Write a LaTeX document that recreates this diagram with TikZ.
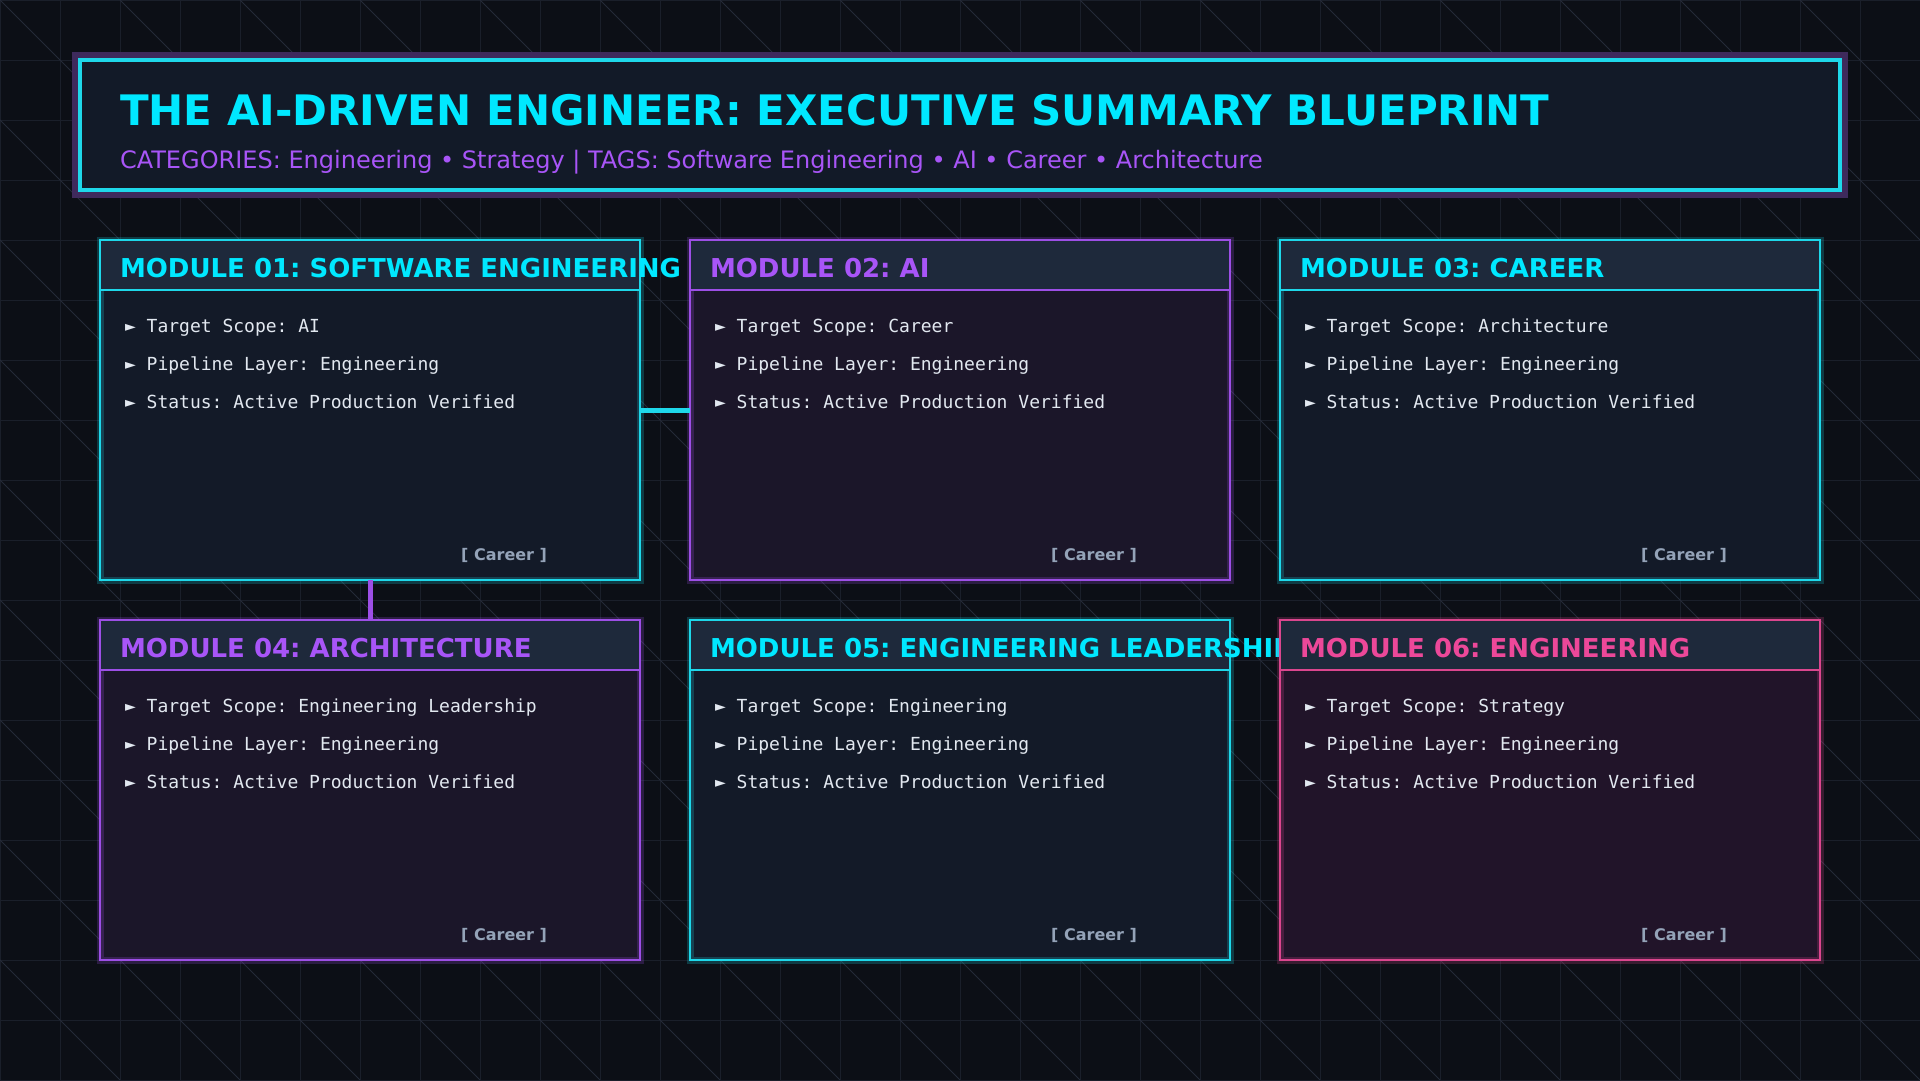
\documentclass[tikz,border=0pt]{standalone}
\usepackage{fontspec}
\setmainfont{DejaVu Sans}
\newfontfamily\monof{DejaVu Sans Mono}
\frenchspacing
\definecolor{bgc}{HTML}{0C0F16}
\definecolor{gridc}{HTML}{1A1F2A}
\definecolor{diagc}{HTML}{242A38}
\definecolor{cyanT}{HTML}{00E8FF}
\definecolor{cyanB}{HTML}{1ED8EA}
\definecolor{purpT}{HTML}{A855F7}
\definecolor{purpB}{HTML}{9D4FE6}
\definecolor{pinkT}{HTML}{EC4899}
\definecolor{pinkB}{HTML}{DB468E}
\definecolor{hdrc}{HTML}{1E293B}
\definecolor{bodyC}{HTML}{131A28}
\definecolor{bodyP}{HTML}{1B1629}
\definecolor{bodyK}{HTML}{211429}
\definecolor{titlebg}{HTML}{121A28}
\definecolor{glowP}{HTML}{3E2A5C}
\definecolor{bulletc}{HTML}{E2E8F0}
\definecolor{tagc}{HTML}{94A3B8}
\tikzset{
  txt/.style={inner sep=0pt, outer sep=0pt},
  headtxt/.style={txt, anchor=base west, font=\fontsize{26}{30}\selectfont\bfseries},
  bullettxt/.style={txt, anchor=base west, text=bulletc, font=\monof\fontsize{18}{22}\selectfont},
  tagtxt/.style={txt, anchor=base east, text=tagc, font=\fontsize{16}{20}\selectfont\bfseries},
  modframe/.style={rectangle, minimum width=540pt, minimum height=340pt, anchor=north west, inner sep=0pt, outer sep=0pt},
  link/.style={line width=5pt},
}
\newcommand\modulebox[8]{%
  % #1 name, #2 x, #3 y, #4 border colour, #5 text colour, #6 body fill, #7 title, #8 scope
  \node[modframe, fill=#6] (#1) at (#2,#3) {};
  \draw[#4, line width=7pt, opacity=0.22] (#1.north west) rectangle (#1.south east);
  \fill[hdrc] (#1.north west) rectangle ([yshift=-50pt]#1.north east);
  \draw[#4, line width=1.2pt] ([yshift=-50pt]#1.north west) -- ([yshift=-50pt]#1.north east);
  \draw[#4, line width=2.4pt] (#1.north west) rectangle (#1.south east);
  \node[headtxt, text=#5] (#1h) at ([shift={(20pt,-37pt)}]#1.north west) {#7};
  \node[bullettxt] (#1a) at ([shift={(25pt,-92pt)}]#1.north west) {► Target Scope: #8};
  \node[bullettxt] (#1b) at ([shift={(25pt,-130pt)}]#1.north west) {► Pipeline Layer: Engineering};
  \node[bullettxt] (#1c) at ([shift={(25pt,-168pt)}]#1.north west) {► Status: Active Production Verified};
  \node[tagtxt] (#1t) at ([shift={(447pt,-320pt)}]#1.north west) {[ Career ]};
}
\begin{document}
\begin{tikzpicture}[x=1pt,y=-1pt]
\fill[bgc] (0,0) rectangle (1920,1080);
\useasboundingbox (0,0) rectangle (1920,1080);
\begin{scope}
  \clip (0,0) rectangle (1920,1080);
  \foreach \x in {0,60,...,1920} \draw[gridc, line width=1pt] (\x,0) -- (\x,1080);
  \foreach \y in {0,60,...,1080} \draw[gridc, line width=1pt] (0,\y) -- (1920,\y);
  \foreach \k in {-1080,-960,...,1920} \draw[diagc, line width=0.8pt] (\k,0) -- (\k+1080,1080);
\end{scope}
% title panel
\fill[glowP] (72,52) rectangle (1848,198);
\draw[cyanB, line width=3.4pt, fill=titlebg] (80,60) rectangle (1840,190);
\node[txt, anchor=base west, text=cyanT, font=\fontsize{42}{50}\selectfont\bfseries] (title) at (120,125) {THE AI-DRIVEN ENGINEER: EXECUTIVE SUMMARY BLUEPRINT};
\node[txt, anchor=base west, text=purpT, font=\fontsize{24}{28}\selectfont] (subtitle) at (120,168) {CATEGORIES: Engineering • Strategy | TAGS: Software Engineering • AI • Career • Architecture};
% modules
\modulebox{m1}{100}{240}{cyanB}{cyanT}{bodyC}{MODULE 01: SOFTWARE ENGINEERING}{AI}
\modulebox{m2}{690}{240}{purpB}{purpT}{bodyP}{MODULE 02: AI}{Career}
\modulebox{m3}{1280}{240}{cyanB}{cyanT}{bodyC}{MODULE 03: CAREER}{Architecture}
\modulebox{m4}{100}{620}{purpB}{purpT}{bodyP}{MODULE 04: ARCHITECTURE}{Engineering Leadership}
\modulebox{m5}{690}{620}{cyanB}{cyanT}{bodyC}{MODULE 05: ENGINEERING LEADERSHIP}{Engineering}
\modulebox{m6}{1280}{620}{pinkB}{pinkT}{bodyK}{MODULE 06: ENGINEERING}{Strategy}
% connectors
\draw[link, cyanB] (m1.east) -- (m2.west);
\draw[link, purpB] (m1.south) -- (m4.north);
\end{tikzpicture}
\end{document}
